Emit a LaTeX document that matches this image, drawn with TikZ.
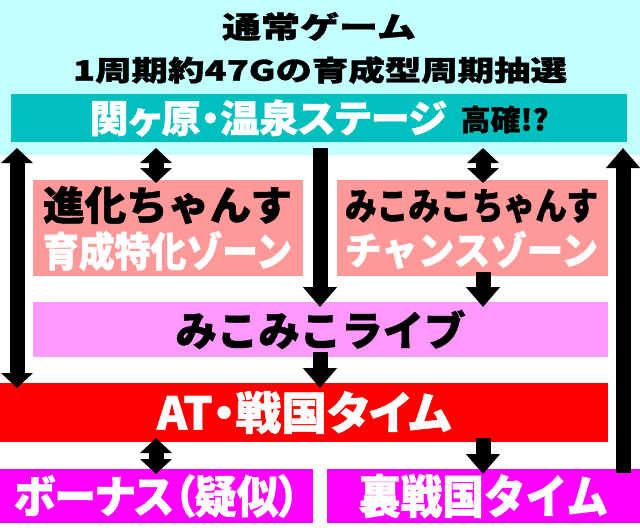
\documentclass[tikz,border=0pt]{standalone}
\usepackage{fontspec}
\usepackage{graphicx}
\usepackage{xcolor}
\usepackage{tikz}
\usetikzlibrary{
  arrows.meta,
  positioning
}
\newfontfamily\jpfont{Noto Sans CJK JP}[BoldFeatures={FakeBold=1.2}]
\definecolor{skybg}{RGB}{196,255,255}
\definecolor{stageteal}{RGB}{0,191,191}
\definecolor{zonepink}{RGB}{255,153,153}
\definecolor{livepink}{RGB}{255,153,255}
\definecolor{atred}{RGB}{255,0,0}
\definecolor{bonusmag}{RGB}{255,0,255}
\newcommand{\fitto}[3]{\resizebox*{#1pt}{#2pt}{#3}}
\tikzset{
  panel/.style={inner sep=0pt, outer sep=0pt, font=\jpfont\bfseries},
  lbl/.style={inner sep=0pt, font=\jpfont\bfseries},
  prop/.style={font=\jpfont\bfseries\addfontfeature{RawFeature=+palt}},
  oneway/.style={line width=15pt, -{Triangle[width=33pt,length=20pt]}},
  twoway/.style={line width=15pt,
    {Triangle[width=31pt,length=15pt]}-{Triangle[width=31pt,length=15pt]}}
}

\begin{document}
\begin{tikzpicture}[x=1pt, y=-1pt]
  \useasboundingbox (0,0) rectangle (640,531);
  % normal game band
  \fill[skybg] (0,0) rectangle (640,155);
  \node[lbl] (title) at (319,26.5) {\fitto{194}{28.5}{通常ゲーム}};
  \node[lbl] (subtitle) at (320,70) {\fitto{494}{27.5}{1周期約47Gの育成型周期抽選}};
  \node[panel, prop, fill=stageteal, minimum width=616pt, minimum height=48pt] (stage) at (319,118)
    {\textcolor{white}{\fitto{357}{37}{関ヶ原・温泉ステージ}}\hspace{14pt}\raisebox{2pt}{\fitto{88}{27.5}{高確!?}}};
  % zones
  \node[panel, fill=zonepink, minimum width=270pt, minimum height=96pt] (zoneL) at (168,228) {};
  \node[lbl] (zoneLa) at (167.5,205) {\fitto{249}{38}{進化ちゃんす}};
  \node[lbl, text=white] (zoneLb) at (167.5,251) {\fitto{249}{40}{育成特化ゾーン}};
  \node[panel, fill=zonepink, minimum width=271pt, minimum height=96pt] (zoneR) at (472.5,228) {};
  \node[lbl] (zoneRa) at (471.5,206) {\fitto{253}{34}{みこみこちゃんす}};
  \node[lbl, text=white] (zoneRb) at (471.5,250) {\fitto{253}{38}{チャンスゾーン}};
  % live, AT, bonus
  \node[panel, fill=livepink, minimum width=575pt, minimum height=55pt] (live) at (320.5,329.5)
    {\fitto{290}{39}{みこみこライブ}};
  \node[panel, prop, fill=atred, text=white, minimum width=608pt, minimum height=59pt] (at) at (304,412.5)
    {\fitto{294}{43}{AT・戦国タイム}};
  \node[panel, prop, fill=bonusmag, text=white, minimum width=313pt, minimum height=54pt] (bonus) at (156.5,496)
    {\fitto{286}{43}{ボーナス（疑似）}};
  \node[panel, fill=bonusmag, text=white, minimum width=313pt, minimum height=54pt] (ura) at (483.5,496)
    {\fitto{249}{44}{裏戦国タイム}};
  % arrow columns
  \coordinate (xa) at (17,0);
  \coordinate (xb) at (156,0);
  \coordinate (xc) at (320,0);
  \coordinate (xd) at (483,0);
  \coordinate (xe) at (623,0);
  \draw[twoway, shorten <=6pt, shorten >=-5pt] (stage.south -| xa) -- (at.north -| xa);
  \draw[twoway, shorten <=6pt, shorten >=-3pt] (stage.south -| xb) -- (zoneL.north -| xb);
  \draw[oneway, shorten <=6pt, shorten >=-5pt] (stage.south -| xc) -- (live.north -| xc);
  \draw[twoway, shorten <=6pt, shorten >=-3pt] (stage.south -| xd) -- (zoneR.north -| xd);
  \draw[oneway, shorten <=-4pt, shorten >=6pt] (ura.north -| xe) -- (stage.south -| xe);
  \draw[oneway, shorten <=-4pt, shorten >=-5pt] (zoneR.south -| xd) -- (live.north -| xd);
  \draw[oneway, shorten <=-5pt, shorten >=-5pt] (live.south -| xc) -- (at.north -| xc);
  \draw[twoway, shorten <=-4pt, shorten >=-5pt] (at.south -| xb) -- (bonus.north -| xb);
  \draw[oneway, shorten <=-4pt, shorten >=-5pt] (at.south -| xd) -- (ura.north -| xd);
\end{tikzpicture}
\end{document}
